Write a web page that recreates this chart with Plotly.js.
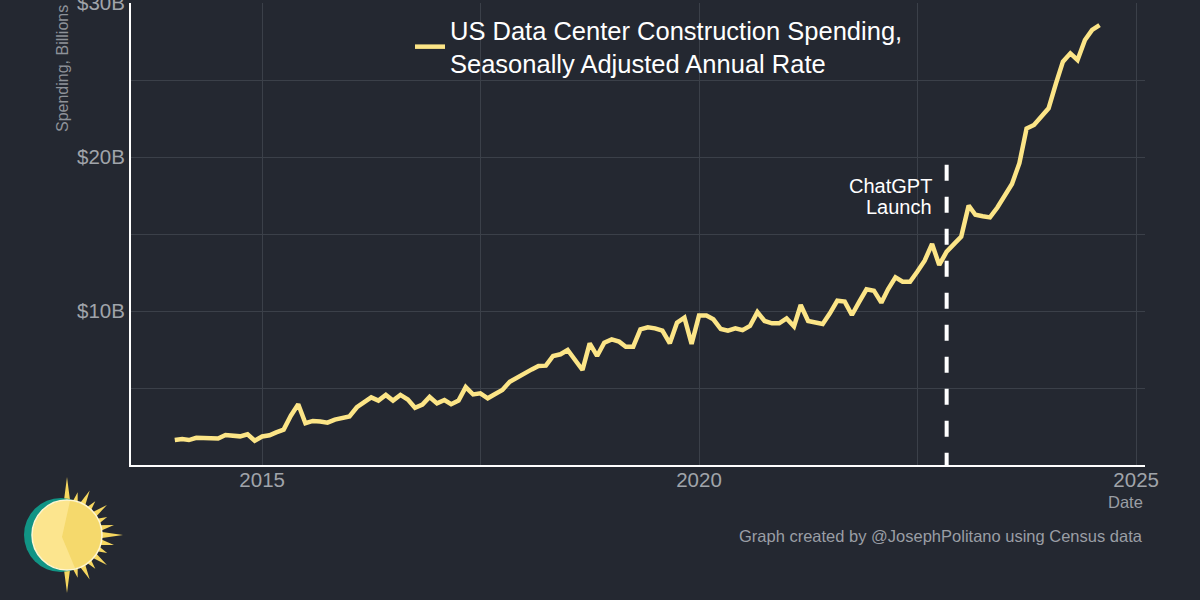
<!DOCTYPE html>
<html><head><meta charset="utf-8">
<script src="https://cdn.plot.ly/plotly-3.0.1.min.js"></script>
<style>html,body{margin:0;padding:0;background:#252a32;}#chart{width:1200px;height:600px;}</style>
</head><body><div id="chart"></div>
<script>
// Monthly values, $ billions (SAAR), Jan 2014 - Aug 2024
const spending2014 = [1.62, 1.69, 1.62, 1.77, 1.75, 1.73, 1.72, 1.95, 1.90, 1.86, 1.99, 1.58];
const spending2015 = [1.85, 1.93, 2.12, 2.30, 3.20, 3.94, 2.71, 2.86, 2.82, 2.75, 2.95, 3.08];
const spending2016 = [3.15, 3.75, 4.10, 4.39, 4.18, 4.55, 4.18, 4.55, 4.25, 3.72, 3.92, 4.42];
const spending2017 = [4.00, 4.22, 3.95, 4.18, 5.06, 4.58, 4.65, 4.33, 4.61, 4.87, 5.41, 5.69];
const spending2018 = [6.00, 6.21, 6.43, 6.45, 7.08, 7.19, 7.47, 6.82, 6.17, 7.90, 7.08, 7.94];
const spending2019 = [8.16, 8.01, 7.68, 7.68, 8.81, 8.94, 8.87, 8.72, 7.90, 9.24, 9.57, 7.86];
const spending2020 = [9.70, 9.70, 9.46, 8.83, 8.72, 8.87, 8.76, 9.03, 9.93, 9.35, 9.20, 9.20];
const spending2021 = [9.52, 9.00, 10.39, 9.35, 9.25, 9.16, 9.85, 10.67, 10.61, 9.74, 10.61, 11.41];
const spending2022 = [11.32, 10.54, 11.41, 12.19, 11.90, 11.90, 12.55, 13.27, 14.35, 12.99, 13.85, 14.29];
const spending2023 = [14.83, 16.85, 16.25, 16.15, 16.08, 16.72, 17.50, 18.25, 19.60, 21.85, 22.08, 22.62];
const spending2024 = [23.16, 24.78, 26.19, 26.73, 26.30, 27.60, 28.25, 28.57];
const years = [2014, 2015, 2016, 2017, 2018, 2019, 2020, 2021, 2022, 2023, 2024];
const yearly = [spending2014, spending2015, spending2016, spending2017, spending2018, spending2019,
                spending2020, spending2021, spending2022, spending2023, spending2024];

const xTickVals = ['2015-01-01', '2020-01-01', '2025-01-01'];
const xTickText = ['2015', '2020', '2025'];
const xMinorVals = ['2017-07-02', '2022-07-02'];
const yTickVals = [10, 20, 30];
const yTickText = ['$10B', '$20B', '$30B'];
const yMinorVals = [5, 15, 25];
const seriesName = 'US Data Center Construction Spending,<br>Seasonally Adjusted Annual Rate';
const chatgptDate = '2022-11-01';
const chatgptLines = ['ChatGPT', 'Launch'];

const dates = [], values = [];
years.forEach((yr, i) => {
  yearly[i].forEach((v, m) => {
    dates.push(yr + '-' + String(m + 1).padStart(2, '0') + '-01');
    values.push(v);
  });
});

const BG = '#242831', GRID = '#3b4049', TICK = '#a0a4aa', LINE = '#fce587';
const FONT = '"Liberation Sans", Arial, sans-serif';

// logo helpers (pixel -> paper)
const L = 131, R = 1145, T = 3, B = 465;
const PX = p => (p - L) / (R - L), PY = p => (B - p) / (B - T);
const cx = 67, cy = 535;
let spikePath = '';
const spikeAngles = [90, 76, 63, 50, 37, 24, 12, 0, -12, -24, -37, -50, -63, -76, -90];
const spikeLens  = [58, 44, 50, 44, 50, 44, 48, 56, 48, 44, 50, 44, 50, 44, 58];
spikeAngles.forEach((a, i) => {
  const r0 = 30, d = 7 * Math.PI / 180, ar = a * Math.PI / 180;
  const p1 = [cx + r0 * Math.cos(ar - d), cy - r0 * Math.sin(ar - d)];
  const p2 = [cx + spikeLens[i] * Math.cos(ar), cy - spikeLens[i] * Math.sin(ar)];
  const p3 = [cx + r0 * Math.cos(ar + d), cy - r0 * Math.sin(ar + d)];
  spikePath += 'M' + PX(p1[0]) + ',' + PY(p1[1]) + ' L' + PX(p2[0]) + ',' + PY(p2[1]) + ' L' + PX(p3[0]) + ',' + PY(p3[1]) + ' Z ';
});
let wedge = 'M' + PX(cx + 3) + ',' + PY(cy - 34) + ' L' + PX(cx - 5) + ',' + PY(cy + 2) + ' L' + PX(cx + 8) + ',' + PY(cy + 33);
for (let a = -76; a <= 84; a += 8) {
  const ar = a * Math.PI / 180;
  wedge += ' L' + PX(cx + 34 * Math.cos(ar)) + ',' + PY(cy - 34 * Math.sin(ar));
}
wedge += ' Z';

const trace = {
  x: dates, y: values, type: 'scatter', mode: 'lines', name: seriesName,
  line: {color: LINE, width: 4.5}, hoverinfo: 'x+y'
};

const layout = {
  width: 1200, height: 600,
  paper_bgcolor: BG, plot_bgcolor: BG,
  margin: {l: L, r: 1200 - R, t: T, b: 600 - B, pad: 0},
  font: {family: FONT, color: TICK},
  showlegend: true,
  legend: {x: PX(410), xanchor: 'left', y: PY(47), yanchor: 'middle', bgcolor: 'rgba(0,0,0,0)',
           font: {size: 25.5, color: '#ffffff', family: FONT}, itemwidth: 30, valign: 'middle'},
  xaxis: {type: 'date', range: ['2013-07-02', '2025-02-07'], tickmode: 'array',
          tickvals: xTickVals, ticktext: xTickText, showgrid: true, gridcolor: GRID, gridwidth: 1,
          minor: {tickmode: 'array', tickvals: xMinorVals, showgrid: true, gridcolor: GRID, gridwidth: 1, ticks: ''},
          showline: true, linecolor: '#ffffff', linewidth: 2, ticks: '', zeroline: false,
          ticklabelstandoff: -5, ticklabeloverflow: 'allow',
          tickfont: {size: 20.5, color: TICK, family: FONT}, fixedrange: true},
  yaxis: {range: [0, 30], tickmode: 'array', tickvals: yTickVals, ticktext: yTickText,
          showgrid: true, gridcolor: GRID, gridwidth: 1,
          minor: {tickmode: 'array', tickvals: yMinorVals, showgrid: true, gridcolor: GRID, gridwidth: 1, ticks: ''},
          showline: true, linecolor: '#ffffff', linewidth: 2, ticks: '', zeroline: false,
          ticklabeloverflow: 'allow',
          tickfont: {size: 20.5, color: TICK, family: FONT}, fixedrange: true},
  shapes: [
    {type: 'line', xref: 'x', yref: 'y', x0: chatgptDate, x1: chatgptDate, y0: 19.5, y1: 0,
     line: {color: '#ffffff', width: 4, dash: '16px,16px'}},
    {type: 'path', xref: 'paper', yref: 'paper', path: spikePath, fillcolor: '#f6d75f', line: {width: 0}},
    {type: 'circle', xref: 'paper', yref: 'paper', x0: PX(24), x1: PX(98), y0: PY(498), y1: PY(572),
     fillcolor: '#119485', line: {width: 0}},
    {type: 'circle', xref: 'paper', yref: 'paper', x0: PX(32), x1: PX(102), y0: PY(500), y1: PY(570),
     fillcolor: '#fce58e', line: {color: '#fff6d0', width: 1.5}},
    {type: 'path', xref: 'paper', yref: 'paper', path: wedge, fillcolor: '#f5d96c', line: {width: 0}}
  ],
  annotations: [
    {xref: 'x', yref: 'paper', x: chatgptDate, y: PY(186), xanchor: 'right', yanchor: 'middle', xshift: -13,
     text: chatgptLines[0], showarrow: false, font: {size: 20, color: '#ffffff', family: FONT}},
    {xref: 'x', yref: 'paper', x: chatgptDate, y: PY(207), xanchor: 'right', yanchor: 'middle', xshift: -13,
     text: chatgptLines[1], showarrow: false, font: {size: 20, color: '#ffffff', family: FONT}},
    {xref: 'paper', yref: 'paper', x: PX(62), y: PY(69), xanchor: 'center', yanchor: 'middle', textangle: -90,
     text: 'Spending, Billions', showarrow: false, font: {size: 16, color: '#8e9299', family: FONT}},
    {xref: 'paper', yref: 'paper', x: 1, y: PY(502), xanchor: 'right', yanchor: 'middle',
     text: 'Date', showarrow: false, font: {size: 16.5, color: '#9a9ea5', family: FONT}},
    {xref: 'paper', yref: 'paper', x: 1, y: PY(536), xanchor: 'right', yanchor: 'middle',
     text: 'Graph created by @JosephPolitano using Census data', showarrow: false,
     font: {size: 16.5, color: '#9a9ea5', family: FONT}}
  ]
};

Plotly.newPlot('chart', [trace], layout, {displayModeBar: false, staticPlot: true});
</script>
</body></html>
